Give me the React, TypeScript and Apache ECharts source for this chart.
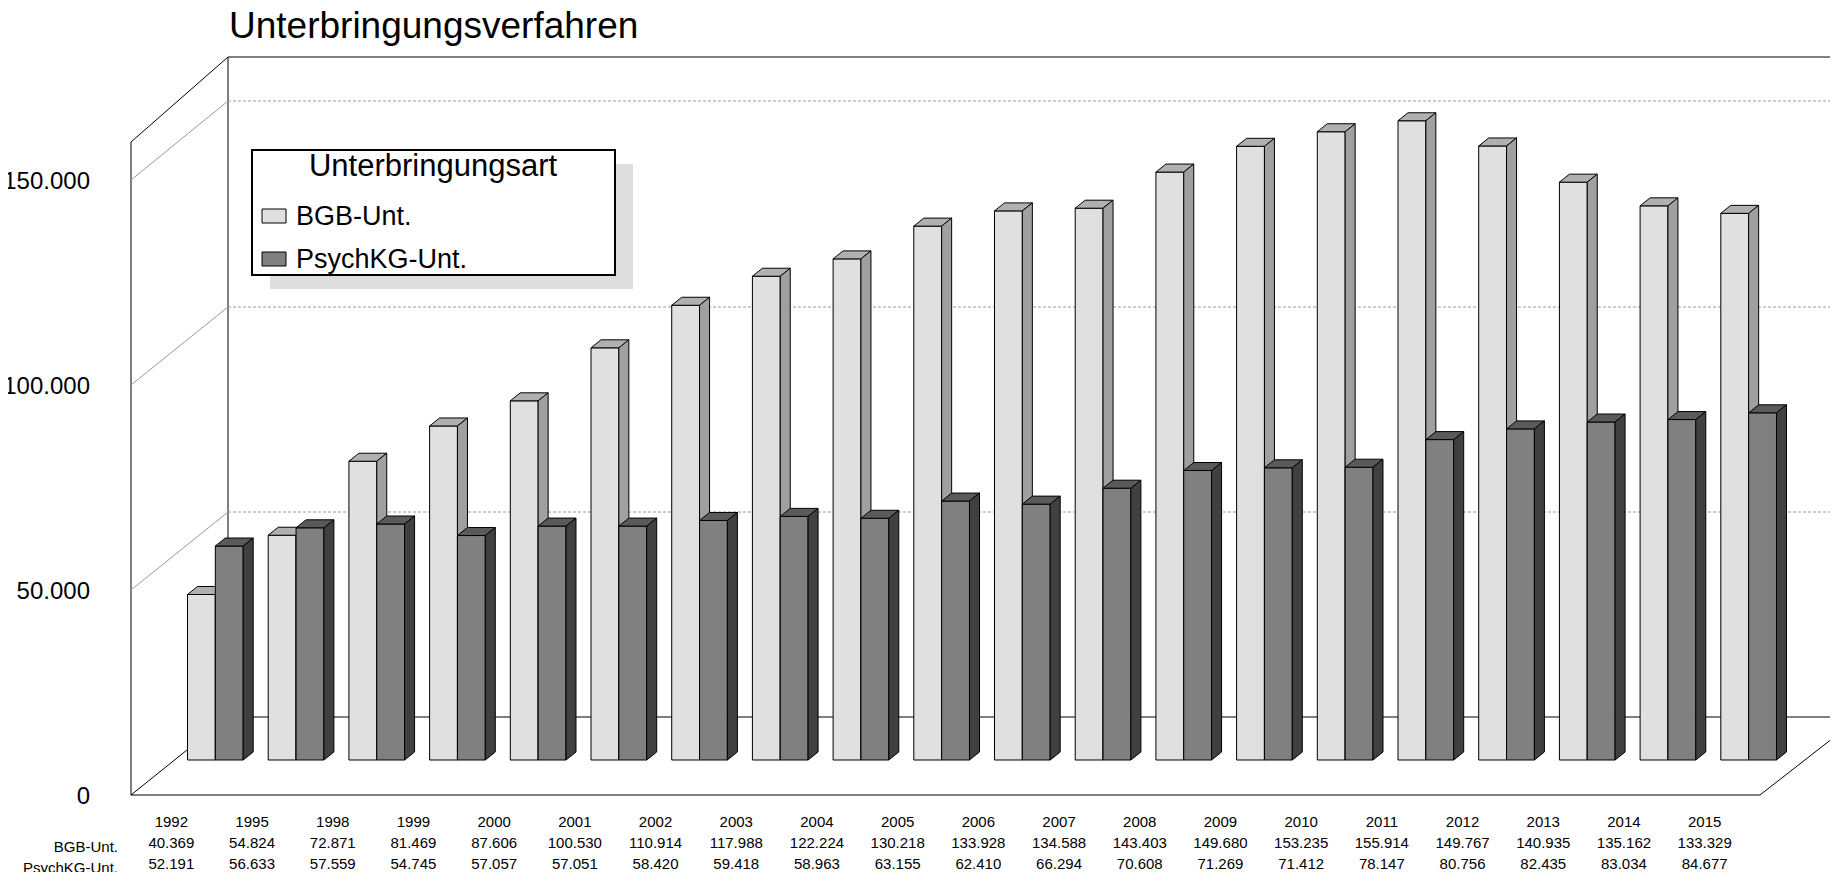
import { useEffect, useRef } from "react";
import * as echarts from "echarts";

const years = ["1992", "1995", "1998", "1999", "2000", "2001", "2002", "2003", "2004", "2005", "2006", "2007", "2008", "2009", "2010", "2011", "2012", "2013", "2014", "2015"];
const bgb = [40369, 54824, 72871, 81469, 87606, 100530, 110914, 117988, 122224, 130218, 133928, 134588, 143403, 149680, 153235, 155914, 149767, 140935, 135162, 133329];
const psych = [52191, 56633, 57559, 54745, 57057, 57051, 58420, 59418, 58963, 63155, 62410, 66294, 70608, 71269, 71412, 78147, 80756, 82435, 83034, 84677];
const yTicks = ["0", "50.000", "100.000", "150.000"];

const fmt = (v: number) => v.toLocaleString("de-DE");
const FONT = "Liberation Sans, Arial, sans-serif";

// pixel frame of the fake 3D box
const FL = 131, FB = 795, BL = 228, BB = 717, BT = 57, FT = 142, W = 1838;
const frontY = [795, 590, 385, 180];
const backY = [717, 512, 307, 101];

function bar(x0: number, x1: number, yTop: number, yBot: number, front: string, top: string, side: string) {
  const dx = 10, dy = -8;
  const st = { stroke: "#000", lineWidth: 1 };
  return [
    { type: "rect", shape: { x: x0, y: yTop, width: x1 - x0, height: yBot - yTop }, style: { fill: front, ...st } },
    { type: "polygon", shape: { points: [[x0, yTop], [x0 + dx, yTop + dy], [x1 + dx, yTop + dy], [x1, yTop]] }, style: { fill: top, ...st } },
    { type: "polygon", shape: { points: [[x1, yTop], [x1 + dx, yTop + dy], [x1 + dx, yBot + dy], [x1, yBot]] }, style: { fill: side, ...st } },
  ];
}

export default function App() {
  const ref = useRef<HTMLDivElement>(null);
  useEffect(() => {
    const chart = echarts.init(ref.current!, null, { renderer: "svg" });
    const line = (x1: number, y1: number, x2: number, y2: number, stroke = "#000", dash?: number[]) => ({
      type: "line", silent: true, z: -10,
      shape: { x1, y1, x2, y2 }, style: { stroke, lineWidth: 1, lineDash: dash },
    });
    const graphics: any[] = [
      line(FL, FT, FL, FB), line(FL, FT, BL, BT), line(BL, BT, BL, BB), line(BL, BT, W, BT),
      line(FL, FB, BL, BB), line(BL, BB, W, BB), line(FL, FB, 1760, FB), line(1760, FB, 1860, BB),
      ...backY.slice(1).map((y) => line(BL, y, W, y, "#999", [3, 2])),
      ...backY.slice(1).map((y, i) => line(FL, frontY[i + 1], BL, y, "#999")),
      ...yTicks.map((t, i) => ({
        type: "text", x: 90, y: frontY[i],
        style: { text: t, font: `24px ${FONT}`, fill: "#000", align: "right", verticalAlign: "middle" },
      })),
      { type: "text", x: 229, y: 25, style: { text: "Unterbringungsverfahren", font: `37px ${FONT}`, fill: "#000", verticalAlign: "middle" } },
      { type: "rect", shape: { x: 270, y: 164, width: 363, height: 125 }, style: { fill: "#ddd" } },
      { type: "rect", shape: { x: 252, y: 150, width: 363, height: 125 }, style: { fill: "#fff", stroke: "#000", lineWidth: 2 } },
      { type: "text", x: 433, y: 165, style: { text: "Unterbringungsart", font: `31px ${FONT}`, fill: "#000", align: "center", verticalAlign: "middle" } },
      { type: "rect", shape: { x: 262, y: 209, width: 24, height: 14 }, style: { fill: "#e0e0e0", stroke: "#000" } },
      { type: "text", x: 296, y: 216, style: { text: "BGB-Unt.", font: `27px ${FONT}`, fill: "#000", verticalAlign: "middle" } },
      { type: "rect", shape: { x: 262, y: 252, width: 24, height: 14 }, style: { fill: "#808080", stroke: "#000" } },
      { type: "text", x: 296, y: 259, style: { text: "PsychKG-Unt.", font: `27px ${FONT}`, fill: "#000", verticalAlign: "middle" } },
      { type: "text", x: 118, y: 846, style: { text: "BGB-Unt.", font: `15px ${FONT}`, fill: "#000", align: "right", verticalAlign: "middle" } },
      { type: "text", x: 118, y: 867, style: { text: "PsychKG-Unt.", font: `15px ${FONT}`, fill: "#000", align: "right", verticalAlign: "middle" } },
    ];
    chart.setOption({
      animation: false,
      grid: [
        { left: 175, right: 49, top: 104, bottom: 120 },
        { left: FL, width: 1614, top: 104, bottom: 85 },
      ],
      xAxis: [
        { type: "category", data: years, gridIndex: 0, show: false },
        {
          type: "category", data: years, gridIndex: 1,
          axisLine: { show: false }, axisTick: { show: false },
          axisLabel: {
            margin: 16, interval: 0, fontFamily: FONT, fontSize: 15, color: "#000", lineHeight: 21,
            formatter: (_v: string, i: number) => `${years[i]}\n${fmt(bgb[i])}\n${fmt(psych[i])}`,
          },
        },
      ],
      yAxis: [
        { type: "value", min: 0, max: 160000, gridIndex: 0, show: false },
        { type: "value", min: 0, max: 160000, gridIndex: 1, show: false },
      ],
      graphic: graphics,
      series: [
        {
          type: "custom",
          xAxisIndex: 0, yAxisIndex: 0,
          data: years.map((_, i) => [i, bgb[i], psych[i]]),
          renderItem: (_p: any, api: any) => {
            const i = api.value(0);
            const [c, y0] = api.coord([i, 0]);
            const w = api.size([1, 0])[0] * 0.345;
            const yb = api.coord([i, api.value(1)])[1];
            const yp = api.coord([i, api.value(2)])[1];
            return {
              type: "group",
              children: [
                ...bar(c - w, c, yb, y0, "#e0e0e0", "#b0b0b0", "#a0a0a0"),
                ...bar(c, c + w, yp, y0, "#808080", "#5a5a5a", "#404040"),
              ],
            };
          },
        },
      ],
    });
    return () => chart.dispose();
  }, []);
  return <div ref={ref} style={{ width: 1838, height: 880, margin: -8 }} />;
}
